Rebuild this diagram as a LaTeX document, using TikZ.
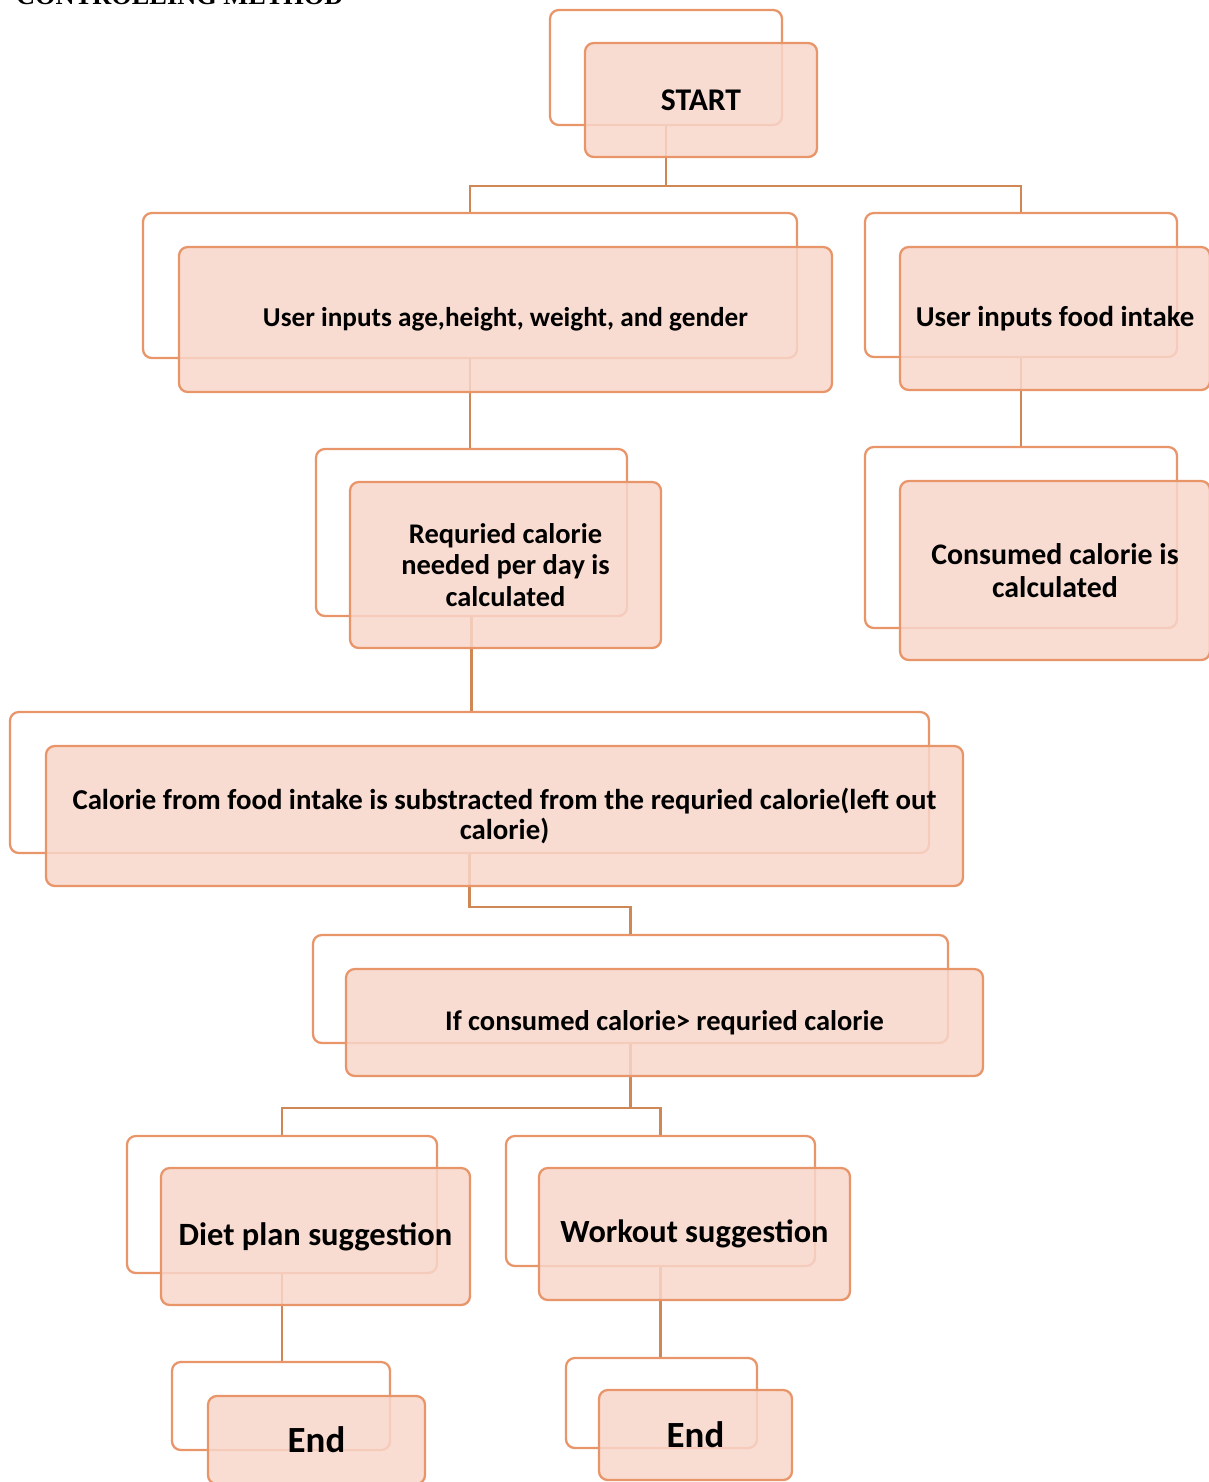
\documentclass[tikz,border=0pt]{standalone}
\usepackage{fontspec}
\setmainfont{Carlito}
\newfontfamily\titlefont{Liberation Serif}
\definecolor{boxfill}{HTML}{F8D6CA}
\definecolor{boxline}{HTML}{E8956A}
\definecolor{linkline}{HTML}{D08756}
\tikzset{
  backbox/.style 2 args={draw=boxline, line width=1.3pt, fill=white, rounded corners=5pt,
    minimum width=#1*0.02cm, minimum height=#2*0.02cm, inner sep=0pt},
  frontbox/.style 2 args={draw=boxline, line width=1.3pt, fill=boxfill, fill opacity=0.85,
    text opacity=1, rounded corners=5pt, align=center, font=\bfseries\fontsize{16.2}{18}\selectfont,
    minimum width=#1*0.02cm, minimum height=#2*0.02cm, inner sep=0pt},
  link/.style={draw=linkline, line width=1.2pt}
}
\begin{document}
\begin{tikzpicture}[x=0.02cm, y=-0.02cm]
    \useasboundingbox (0,0) rectangle (1208,1482);
    \node[anchor=base west, font=\titlefont\bfseries\fontsize{15}{17}\selectfont] (title)
      at (10,4) {CONTROLLING METHOD};
    % back boxes
    \node[backbox={232}{115}] (startb) at (666,67.5) {};
    \node[backbox={654}{145}] (ageb) at (470,285.5) {};
    \node[backbox={312}{144}] (foodb) at (1021,285) {};
    \node[backbox={311}{167}] (reqb) at (471.5,532.5) {};
    \node[backbox={312}{181}] (consb) at (1021,537.5) {};
    \node[backbox={919}{141}] (calcb) at (469.5,782.5) {};
    \node[backbox={635}{108}] (ifb) at (630.5,989) {};
    \node[backbox={310}{137}] (dietb) at (282,1204.5) {};
    \node[backbox={309}{130}] (workb) at (660.5,1201) {};
    \node[backbox={218}{88}] (endab) at (281,1406) {};
    \node[backbox={191}{90}] (endbb) at (661.5,1403) {};
    % connectors
    \draw[link] (startb.south) -- ++(0,60) -| (ageb.north);
    \draw[link] (startb.south) -- ++(0,60) -| (foodb.north);
    \draw[link] (ageb.south) -- (ageb.south |- reqb.north);
    \draw[link] (foodb.south) -- (foodb.south |- consb.north);
    \draw[link] (reqb.south) -- (reqb.south |- calcb.north);
    \draw[link] (calcb.south) -- ++(0,53) -| (ifb.north);
    \draw[link] (ifb.south) -- ++(0,64) -| (dietb.north);
    \draw[link] (ifb.south) -- ++(0,64) -| (workb.north);
    \draw[link] (dietb.south) -- (dietb.south |- endab.north);
    \draw[link] (workb.south) -- (workb.south |- endbb.north);
    % front boxes
    \node[frontbox={232}{114}, font=\bfseries\fontsize{18}{20}\selectfont] (start) at (701,100) {START};
    \node[frontbox={653}{145}, font=\bfseries\fontsize{15.5}{18}\selectfont] (age) at (505.5,319.5)
      {User inputs age,height, weight, and gender};
    \node[frontbox={310}{143}, font=\bfseries\fontsize{16.4}{18}\selectfont] (food) at (1055,318.5)
      {User inputs food intake};
    \node[frontbox={311}{166}] (req) at (505.5,565) {Requried calorie\\needed per day is\\calculated};
    \node[frontbox={310}{179}, font=\bfseries\fontsize{17}{19}\selectfont] (cons) at (1055,570.5)
      {Consumed calorie is\\calculated};
    \node[frontbox={917}{140}, font=\bfseries\fontsize{16.4}{17.6}\selectfont] (calc) at (504.5,816)
      {Calorie from food intake is substracted from the requried calorie(left out\\calorie)};
    \node[frontbox={637}{107}] (if) at (664.5,1022.5) {If consumed calorie> requried calorie};
    \node[frontbox={309}{137}, font=\bfseries\fontsize{18.5}{20}\selectfont] (diet) at (315.5,1236.5)
      {Diet plan suggestion};
    \node[frontbox={311}{132}, font=\bfseries\fontsize{18.4}{20}\selectfont] (work) at (694.5,1234)
      {Workout suggestion};
    \node[frontbox={217}{88}, font=\bfseries\fontsize{21}{23}\selectfont] (enda) at (316.5,1440) {End};
    \node[frontbox={193}{90}, font=\bfseries\fontsize{21}{23}\selectfont] (endb) at (695.5,1435) {End};
  \end{tikzpicture}
\end{document}
